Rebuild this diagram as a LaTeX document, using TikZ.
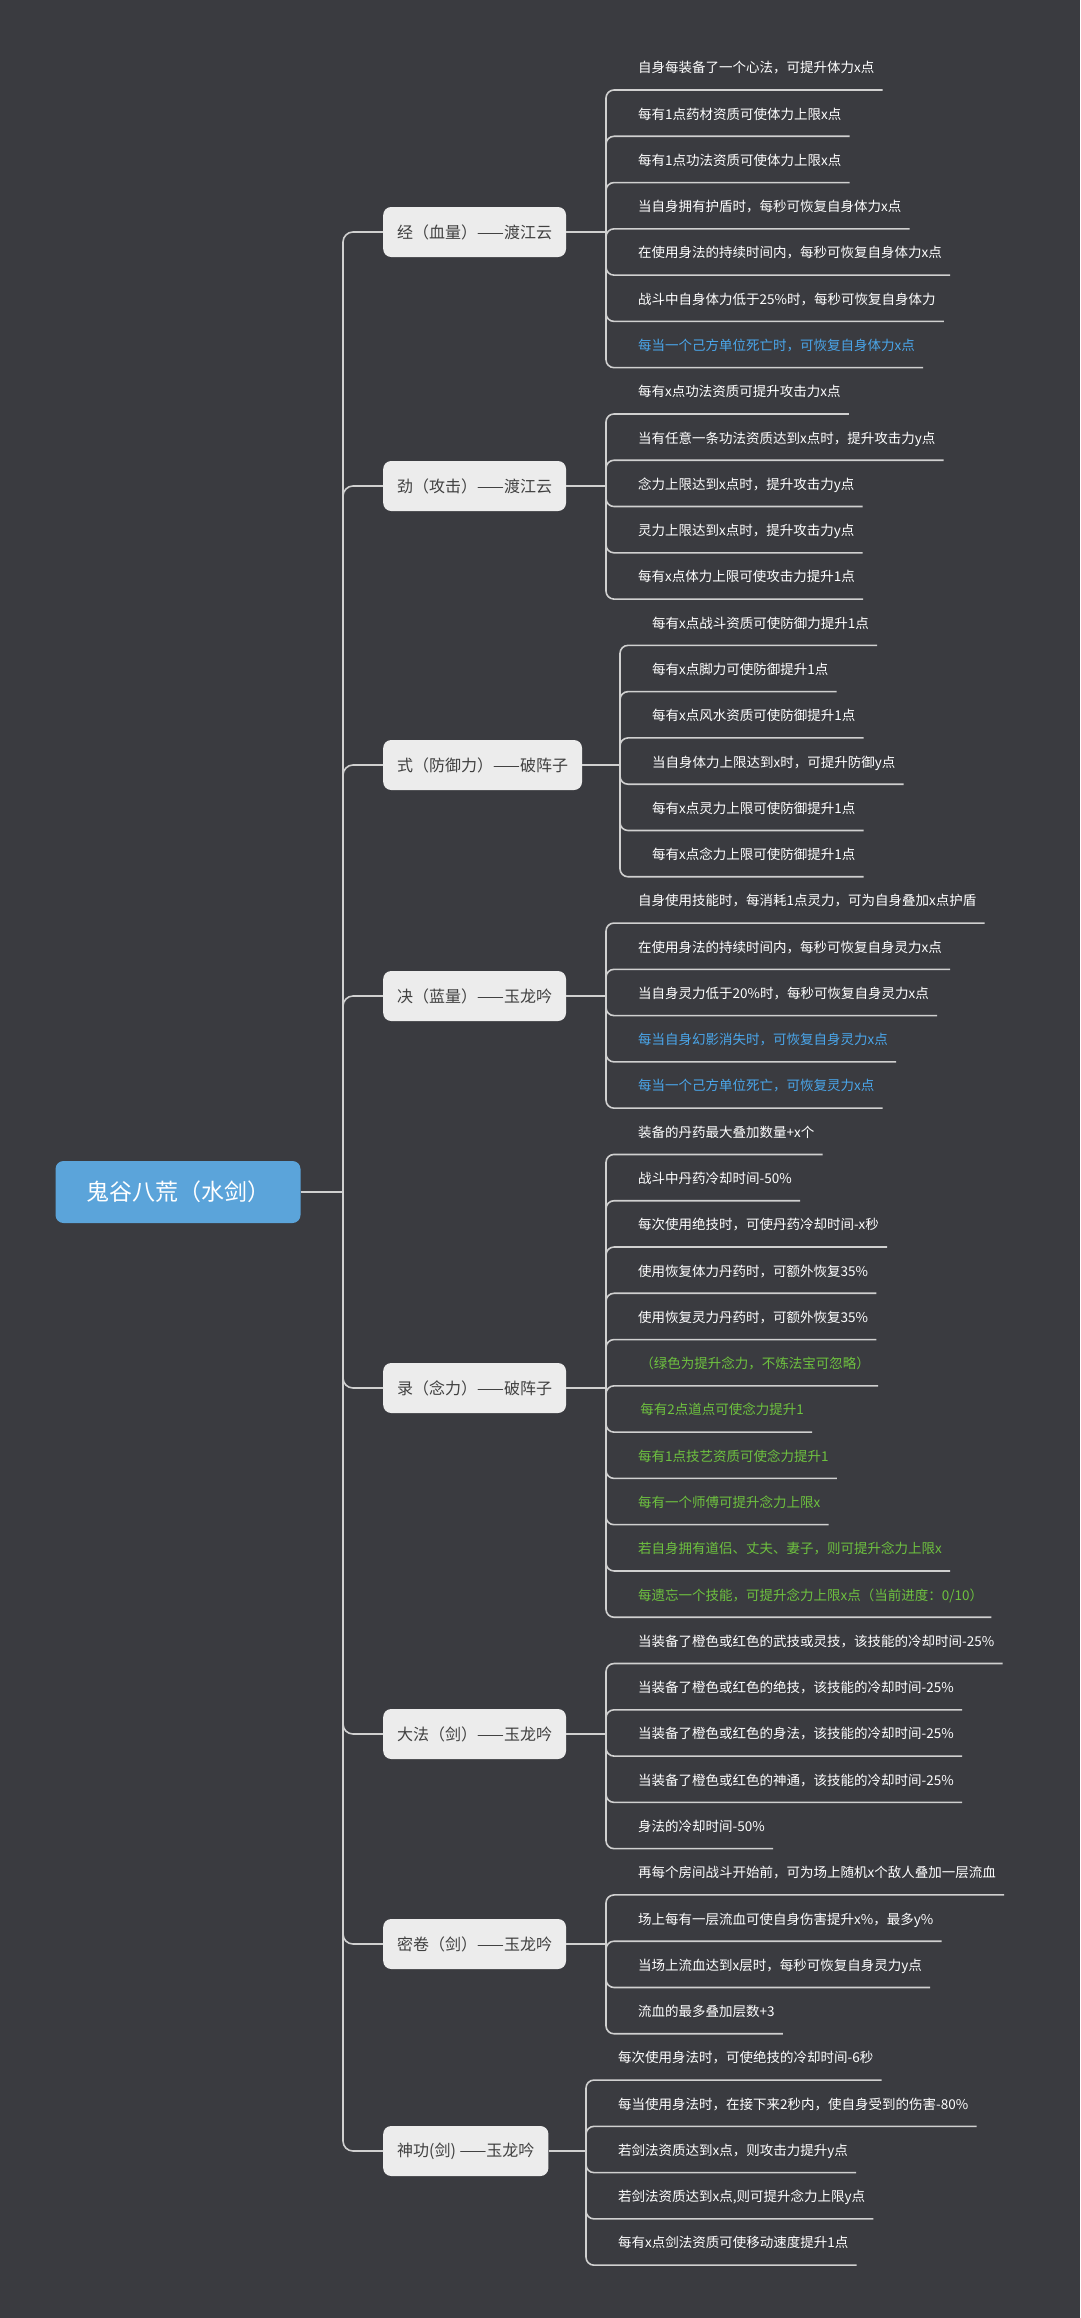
\documentclass[tikz,border=0pt]{standalone}
\usepackage{fontspec}
\setmainfont{Noto Sans CJK SC}
\usepackage{xcolor}
\usetikzlibrary{positioning}
\definecolor{bgdark}{HTML}{3A3B40}
\definecolor{linegray}{HTML}{D0D0D0}
\definecolor{rootblue}{HTML}{5BA4DA}
\definecolor{tipblue}{HTML}{4AA6EA}
\definecolor{tipgreen}{HTML}{6EC23F}
\newcommand\bl[1]{\textcolor{tipblue}{#1}}
\newcommand\gr[1]{\textcolor{tipgreen}{#1}}
% leaves of one branch: name, x of the stem, first index, texts
\newcommand\leafs[4]{%
  \foreach \t [count=\i from #3] in {#4} {
    \node[leaf] (#1-\i) at ({#2+24},{90+46.28*\i}) {\t};
    \draw[link, rounded corners=8pt] (#1c) |- (#1-\i.south east);
  }}

\begin{document}
\begin{tikzpicture}[x=1pt, y=-1pt,
        link/.style = {draw=linegray, line width=1.6pt},
        leaf/.style = {anchor=south west, inner xsep=8pt, inner ysep=14pt,
          text height=11pt, text depth=3pt, font=\fontsize{13.5}{16}\selectfont, text=white},
        branch/.style = {anchor=west, rounded corners=8pt, fill=gray!15,
          minimum height=50pt, inner xsep=14pt, text=black!75,
          font=\fontsize{16}{19}\selectfont}]
        \fill[bgdark] (0,0) rectangle (1080,2318);
        \useasboundingbox (0,0) rectangle (1080,2318);

        \node[rounded corners=8pt, fill=rootblue, text=white, minimum width=245pt,
              minimum height=62pt, font=\fontsize{23}{27}\selectfont] (root) at (178,1192) {鬼谷八荒（水剑）};
        \coordinate (trunk) at (343,1192);
        \draw[link] (root.east) -- (trunk);

        \node[branch] (jing) at (383,232) {经（血量）——渡江云};
        \node[branch] (jin)  at (383,486) {劲（攻击）——渡江云};
        \node[branch] (shi)  at (383,765) {式（防御力）——破阵子};
        \node[branch] (jue)  at (383,996) {决（蓝量）——玉龙吟};
        \node[branch] (lu)   at (383,1388) {录（念力）——破阵子};
        \node[branch] (dafa) at (383,1734) {大法（剑）——玉龙吟};
        \node[branch] (mi)   at (383,1944) {密卷（剑）——玉龙吟};
        \node[branch] (shen) at (383,2151) {神功(剑) ——玉龙吟};

        \foreach \b/\x in {jing/606, jin/606, shi/620, jue/606, lu/606, dafa/606, mi/606, shen/586} {
            \draw[link, rounded corners=10pt] (trunk) |- (\b.west);
            \coordinate (\b c) at (\x,0 |- \b.east);
            \draw[link] (\b.east) -- (\b c);
        }

        \leafs{jing}{606}{0}{{自身每装备了一个心法，可提升体力x点},{每有1点药材资质可使体力上限x点},
            {每有1点功法资质可使体力上限x点},{当自身拥有护盾时，每秒可恢复自身体力x点},
            {在使用身法的持续时间内，每秒可恢复自身体力x点},{战斗中自身体力低于25\%时，每秒可恢复自身体力},
            {\bl{每当一个己方单位死亡时，可恢复自身体力x点}}}
        \leafs{jin}{606}{7}{{每有x点功法资质可提升攻击力x点},{当有任意一条功法资质达到x点时，提升攻击力y点},
            {念力上限达到x点时，提升攻击力y点},{灵力上限达到x点时，提升攻击力y点},
            {每有x点体力上限可使攻击力提升1点}}
        \leafs{shi}{620}{12}{{每有x点战斗资质可使防御力提升1点},{每有x点脚力可使防御提升1点},
            {每有x点风水资质可使防御提升1点},{当自身体力上限达到x时，可提升防御y点},
            {每有x点灵力上限可使防御提升1点},{每有x点念力上限可使防御提升1点}}
        \leafs{jue}{606}{18}{{自身使用技能时，每消耗1点灵力，可为自身叠加x点护盾},
            {在使用身法的持续时间内，每秒可恢复自身灵力x点},{当自身灵力低于20\%时，每秒可恢复自身灵力x点},
            {\bl{每当自身幻影消失时，可恢复自身灵力x点}},{\bl{每当一个己方单位死亡，可恢复灵力x点}}}
        \leafs{lu}{606}{23}{{装备的丹药最大叠加数量+x个},{战斗中丹药冷却时间-50\%},
            {每次使用绝技时，可使丹药冷却时间-x秒},{使用恢复体力丹药时，可额外恢复35\%},
            {使用恢复灵力丹药时，可额外恢复35\%},{\gr{\,（绿色为提升念力，不炼法宝可忽略）}},
            {\gr{\,每有2点道点可使念力提升1}},{\gr{每有1点技艺资质可使念力提升1}},
            {\gr{每有一个师傅可提升念力上限x}},{\gr{若自身拥有道侣、丈夫、妻子，则可提升念力上限x}},
            {\gr{每遗忘一个技能，可提升念力上限x点（当前进度：0/10）}}}
        \leafs{dafa}{606}{34}{{当装备了橙色或红色的武技或灵技，该技能的冷却时间-25\%},
            {当装备了橙色或红色的绝技，该技能的冷却时间-25\%},{当装备了橙色或红色的身法，该技能的冷却时间-25\%},
            {当装备了橙色或红色的神通，该技能的冷却时间-25\%},{身法的冷却时间-50\%}}
        \leafs{mi}{606}{39}{{再每个房间战斗开始前，可为场上随机x个敌人叠加一层流血},
            {场上每有一层流血可使自身伤害提升x\%，最多y\%},{当场上流血达到x层时，每秒可恢复自身灵力y点},
            {流血的最多叠加层数+3}}
        \leafs{shen}{586}{43}{{每次使用身法时，可使绝技的冷却时间-6秒},
            {每当使用身法时，在接下来2秒内，使自身受到的伤害-80\%},{若剑法资质达到x点，则攻击力提升y点},
            {若剑法资质达到x点,则可提升念力上限y点},{每有x点剑法资质可使移动速度提升1点}}
\end{tikzpicture}
\end{document}
